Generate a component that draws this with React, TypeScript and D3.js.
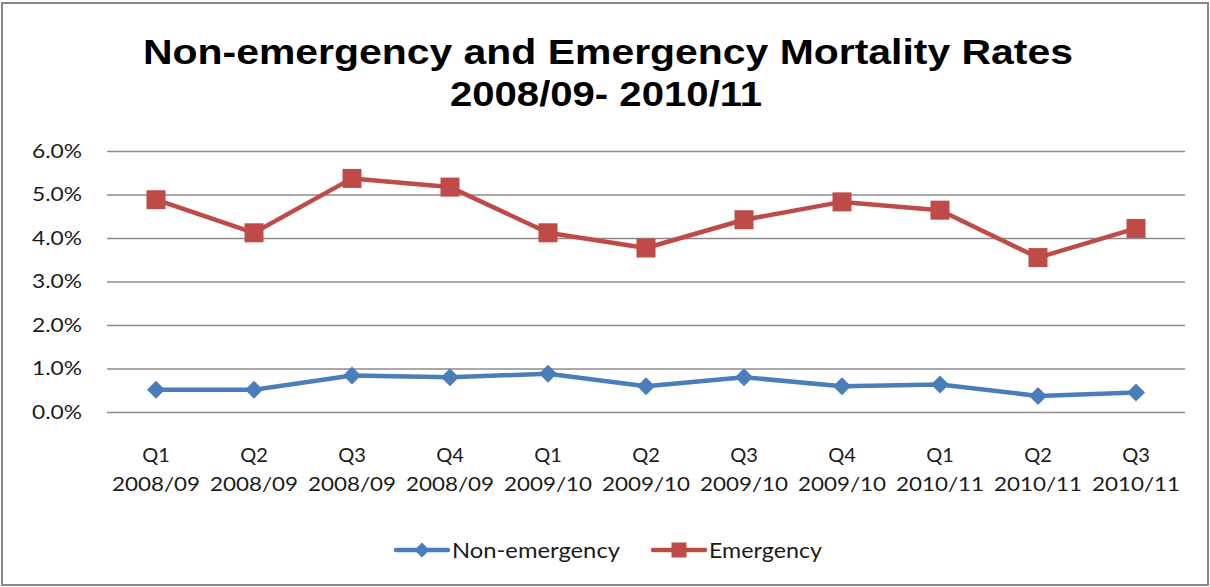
import React, { useEffect, useRef } from "react";
import * as d3 from "d3";

const quarters = ["Q1", "Q2", "Q3", "Q4", "Q1", "Q2", "Q3", "Q4", "Q1", "Q2", "Q3"];
const years = ["2008/09", "2008/09", "2008/09", "2008/09", "2009/10", "2009/10", "2009/10", "2009/10", "2010/11", "2010/11", "2010/11"];
const nonEmergency = [0.51, 0.51, 0.84, 0.8, 0.88, 0.59, 0.8, 0.59, 0.63, 0.37, 0.45];
const emergency = [4.88, 4.12, 5.37, 5.17, 4.12, 3.77, 4.42, 4.83, 4.64, 3.55, 4.22];
const yTicks = [0, 1, 2, 3, 4, 5, 6];

const W = 1210;
const H = 587;
const BLUE = "#4A7EBB";
const RED = "#BE4B48";
const labelFont = "Lato, 'Noto Sans', sans-serif";

export default function App() {
  const svgRef = useRef<SVGSVGElement>(null);

  useEffect(() => {
    const svg = d3.select(svgRef.current);
    svg.selectAll("*").remove();

    const left = 107, right = 1185, top = 151, bottom = 412;
    const x = d3.scaleBand<number>().domain(d3.range(quarters.length)).range([left, right]);
    const cx = (i: number) => (x(i) as number) + x.bandwidth() / 2;
    const y = d3.scaleLinear().domain([0, 6]).range([bottom, top]);

    svg.append("rect").attr("width", W).attr("height", H).attr("fill", "#fff");
    svg.append("rect")
      .attr("x", 2).attr("y", 3).attr("width", W - 4).attr("height", H - 5)
      .attr("fill", "none").attr("stroke", "#888").attr("stroke-width", 2);

    // title
    const title = svg.append("g")
      .attr("font-family", "'Liberation Sans', Arial, sans-serif")
      .attr("font-weight", "bold").attr("font-size", 35).attr("fill", "#000")
      .attr("text-anchor", "middle");
    title.append("text").attr("x", 608).attr("y", 64)
      .attr("textLength", 930).attr("lengthAdjust", "spacingAndGlyphs")
      .text("Non-emergency  and  Emergency  Mortality  Rates");
    title.append("text").attr("x", 606).attr("y", 106)
      .attr("textLength", 312).attr("lengthAdjust", "spacingAndGlyphs")
      .text("2008/09- 2010/11");

    // y axis grid + labels
    const yAxis = svg.append("g")
      .attr("transform", `translate(${left},0)`)
      .call(d3.axisLeft(y).tickValues(yTicks).tickSize(0).tickPadding(25)
        .tickFormat((d) => `${(d as number).toFixed(1)}%`));
    yAxis.select(".domain").remove();
    yAxis.selectAll(".tick text")
      .attr("font-family", labelFont).attr("font-size", 20).attr("fill", "#1a1a1a")
      .attr("textLength", 50).attr("lengthAdjust", "spacingAndGlyphs");
    yAxis.selectAll(".tick line").clone()
      .attr("x2", right - left).attr("stroke", "#8c8c8c").attr("stroke-width", 1.5);

    // x labels
    const xl = svg.append("g").attr("font-family", labelFont).attr("font-size", 20)
      .attr("fill", "#1a1a1a").attr("text-anchor", "middle");
    quarters.forEach((q, i) => {
      xl.append("text").attr("x", cx(i)).attr("y", 462).text(q);
      xl.append("text").attr("x", cx(i)).attr("y", 491)
        .attr("textLength", 88).attr("lengthAdjust", "spacingAndGlyphs").text(years[i]);
    });

    const line = d3.line<number>().x((_, i) => cx(i)).y((d) => y(d));

    const diamond = (g: any, px: number, py: number, s: number) =>
      g.append("path")
        .attr("d", `M${px},${py - s}L${px + s},${py}L${px},${py + s}L${px - s},${py}Z`)
        .attr("fill", BLUE);
    const square = (g: any, px: number, py: number, s: number) =>
      g.append("rect").attr("x", px - s).attr("y", py - s)
        .attr("width", 2 * s).attr("height", 2 * s).attr("fill", RED);

    // series
    const series = [
      { data: nonEmergency, color: BLUE, marker: diamond, size: 9 },
      { data: emergency, color: RED, marker: square, size: 9.5 },
    ];
    series.forEach((s) => {
      svg.append("path").datum(s.data).attr("d", line)
        .attr("fill", "none").attr("stroke", s.color).attr("stroke-width", 4.5)
        .attr("stroke-linejoin", "round");
      const g = svg.append("g");
      s.data.forEach((v, i) => s.marker(g, cx(i), y(v), s.size));
    });

    // legend
    const legend = svg.append("g").attr("font-family", labelFont).attr("font-size", 21).attr("fill", "#1a1a1a");
    const items = [
      { label: "Non-emergency", color: BLUE, marker: diamond, x0: 396, size: 7.5, len: 168 },
      { label: "Emergency", color: RED, marker: square, x0: 653, size: 7.5, len: 113 },
    ];
    items.forEach((it) => {
      legend.append("line").attr("x1", it.x0).attr("x2", it.x0 + 52)
        .attr("y1", 550).attr("y2", 550).attr("stroke", it.color)
        .attr("stroke-width", 4.5).attr("stroke-linecap", "round");
      it.marker(legend, it.x0 + 26, 550, it.size);
      legend.append("text").attr("x", it.x0 + 56).attr("y", 558)
        .attr("textLength", it.len).attr("lengthAdjust", "spacingAndGlyphs").text(it.label);
    });
  }, []);

  return (
    <svg ref={svgRef} width={W} height={H}
      style={{ position: "absolute", left: 0, top: 0, display: "block" }} />
  );
}
